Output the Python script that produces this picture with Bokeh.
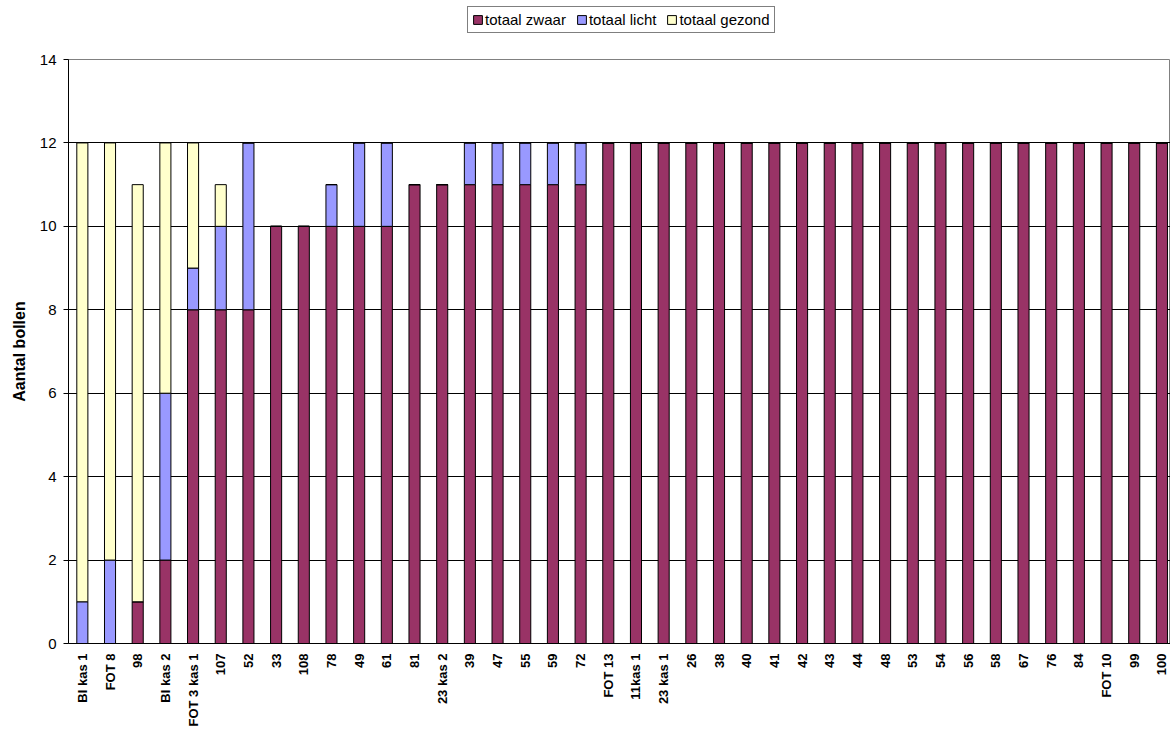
from bokeh.plotting import figure
from bokeh.layouts import column
from bokeh.models import ColumnDataSource, FixedTicker, Legend, LegendItem, Range1d
from bokeh.embed import file_html
from bokeh.resources import INLINE
import math

# Plant samples along the x axis
categories = [
    "BI kas 1", "FOT 8", "98", "BI kas 2", "FOT 3 kas 1", "107", "52", "33",
    "108", "78", "49", "61", "81", "23 kas 2", "39", "47", "55", "59", "72",
    "FOT 13", "11kas 1", "23 kas 1", "26", "38", "40", "41", "42", "43", "44",
    "48", "53", "54", "56", "58", "67", "76", "84", "FOT 10", "99", "100",
]

# Bulb counts per class
zwaar = [0, 0, 1, 2, 8, 8, 8, 10, 10, 10, 10, 10, 11, 11, 11, 11, 11, 11, 11,
         12, 12, 12, 12, 12, 12, 12, 12, 12, 12, 12, 12, 12, 12, 12, 12, 12, 12, 12, 12, 12]
licht = [1, 2, 0, 4, 1, 2, 4, 0, 0, 1, 2, 2, 0, 0, 1, 1, 1, 1, 1,
         0, 0, 0, 0, 0, 0, 0, 0, 0, 0, 0, 0, 0, 0, 0, 0, 0, 0, 0, 0, 0]
gezond = [11, 10, 10, 6, 3, 1, 0, 0, 0, 0, 0, 0, 0, 0, 0, 0, 0, 0, 0,
          0, 0, 0, 0, 0, 0, 0, 0, 0, 0, 0, 0, 0, 0, 0, 0, 0, 0, 0, 0, 0]

series = ["zwaar", "licht", "gezond"]
series_labels = ["totaal zwaar", "totaal licht", "totaal gezond"]
colors = ["#993366", "#9999FF", "#FFFFCC"]
y_ticks = [0, 2, 4, 6, 8, 10, 12, 14]

xs = [i + 0.5 for i in range(len(categories))]
source = ColumnDataSource(dict(x=xs, zwaar=zwaar, licht=licht, gezond=gezond))

FONT = "Liberation Sans"

# Main chart
p = figure(
    width=1170, height=680,
    output_backend="svg", toolbar_location=None,
    x_range=Range1d(0, 39.81), y_range=Range1d(0, 14),
    min_border_left=68, min_border_right=0,
    min_border_top=10, min_border_bottom=85,
)
p.background_fill_color = "white"
p.border_fill_color = "white"
p.outline_line_color = "#808080"
p.outline_line_width = 1

p.vbar_stack(
    series, x="x", width=0.4, source=source,
    fill_color=colors, line_color="black", line_width=1,
)

# Grid
p.xgrid.visible = False
p.ygrid.ticker = FixedTicker(ticks=y_ticks)
p.ygrid.grid_line_color = "black"
p.ygrid.grid_line_width = 1

# Y axis
p.yaxis.ticker = FixedTicker(ticks=y_ticks)
p.yaxis.minor_tick_line_color = None
p.yaxis.major_tick_in = 0
p.yaxis.major_tick_out = 5
p.yaxis.axis_line_color = "black"
p.yaxis.major_tick_line_color = "black"
p.yaxis.major_label_text_font = FONT
p.yaxis.major_label_text_font_size = "15px"
p.yaxis.major_label_text_color = "black"
p.yaxis.major_label_standoff = 7
p.yaxis.axis_label = "Aantal bollen"
p.yaxis.axis_label_text_font = FONT
p.yaxis.axis_label_text_font_style = "bold"
p.yaxis.axis_label_text_font_size = "16px"
p.yaxis.axis_label_text_color = "black"
p.yaxis.axis_label_standoff = 9

# X axis with category labels
p.xaxis.ticker = FixedTicker(ticks=xs)
p.xaxis.major_label_overrides = {x: c for x, c in zip(xs, categories)}
p.xaxis.major_label_orientation = math.pi / 2
p.xaxis.major_tick_in = 0
p.xaxis.major_tick_out = 0
p.xaxis.minor_tick_line_color = None
p.xaxis.axis_line_color = "black"
p.xaxis.major_label_text_font = FONT
p.xaxis.major_label_text_font_style = "bold"
p.xaxis.major_label_text_font_size = "13px"
p.xaxis.major_label_text_color = "black"
p.xaxis.major_label_standoff = 10

# Legend strip above the chart
lg = figure(
    width=1170, height=49,
    output_backend="svg", toolbar_location=None,
    x_range=Range1d(0, 1), y_range=Range1d(0, 1),
    min_border=0,
)
lg.axis.visible = False
lg.grid.visible = False
lg.outline_line_color = None
lg.background_fill_color = "white"
lg.border_fill_color = "white"

# Square swatches for the legend, placed outside the visible range
swatches = [
    lg.quad(left=[5], right=[6], bottom=[5], top=[6],
            fill_color=c, line_color="black", line_width=1)
    for c in colors
]

legend = Legend(
    items=[LegendItem(label=lab, renderers=[r]) for lab, r in zip(series_labels, swatches)],
    orientation="horizontal",
    location=(399, 16),
    border_line_color="black",
    border_line_width=1,
    background_fill_color="white",
    background_fill_alpha=1,
    label_text_font=FONT,
    label_text_font_size="15px",
    label_text_color="black",
    glyph_width=11,
    glyph_height=11,
    label_standoff=2,
    spacing=10,
    padding=4,
    margin=0,
    label_height=15,
)
lg.add_layout(legend, "center")

layout = column(lg, p, spacing=0)
open("out.html", "w").write(file_html(layout, INLINE))
